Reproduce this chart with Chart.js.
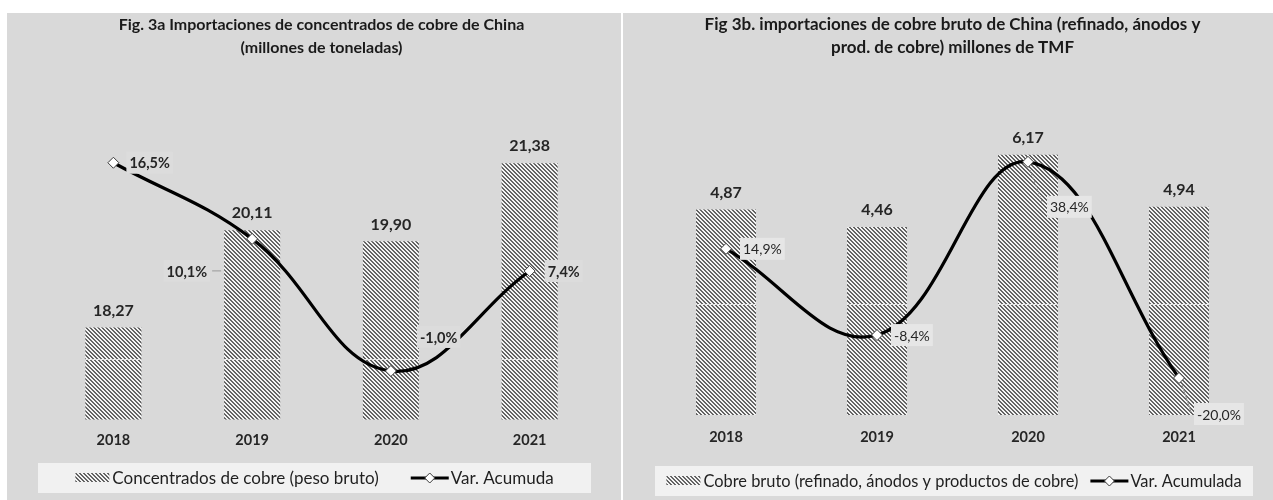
<!DOCTYPE html>
<html>
<head>
<meta charset="utf-8">
<script src="https://cdn.jsdelivr.net/npm/chart.js@4.4.1/dist/chart.umd.min.js"></script>
<style>
  html, body { margin: 0; padding: 0; background: #ffffff; }
  body { width: 1273px; height: 500px; position: relative; overflow: hidden; }
  .panel { position: absolute; top: 13px; height: 487px; background: #d9d9d9; }
  #p1 { left: 7px; width: 614px; }
  #p2 { left: 623px; width: 650px; }
  canvas { display: block; }
</style>
</head>
<body>
<div class="panel" id="p1"><canvas id="c1" width="614" height="487"></canvas></div>
<div class="panel" id="p2"><canvas id="c2" width="650" height="487"></canvas></div>
<script>
// Years on the category axis
const years = ['2018', '2019', '2020', '2021'];

// Fig. 3a: copper concentrate imports (million tonnes) and cumulative change (%)
const concentrados = [18.27, 20.11, 19.90, 21.38];
const varConcentrados = [16.5, 10.1, -1.0, 7.4];

// Fig. 3b: raw copper imports (million TMF) and cumulative change (%)
const cobreBruto = [4.87, 4.46, 6.17, 4.94];
const varCobreBruto = [14.9, -8.4, 38.4, -20.0];

const FONT = 'Lato, "Open Sans", sans-serif';
Chart.defaults.font.family = FONT;

const fmtValue = v => v.toFixed(2).replace('.', ',');
const fmtPct = v => v.toFixed(1).replace('.', ',') + '%';

// Diagonal hatch used for the bars and the legend swatch
function stripePattern(ctx) {
  const c = document.createElement('canvas');
  c.width = 4; c.height = 4;
  const g = c.getContext('2d');
  g.fillStyle = '#f4f4f4';
  g.fillRect(0, 0, 4, 4);
  g.fillStyle = '#646464';
  for (let y = 0; y < 4; y++) {
    for (let x = 0; x < 4; x++) {
      if ((((x - y) % 4) + 4) % 4 < 2) g.fillRect(x, y, 1, 1);
    }
  }
  return ctx.createPattern(c, 'repeat');
}

function drawDiamond(ctx, x, y, r) {
  ctx.save();
  ctx.beginPath();
  ctx.moveTo(x, y - r);
  ctx.lineTo(x + r, y);
  ctx.lineTo(x, y + r);
  ctx.lineTo(x - r, y);
  ctx.closePath();
  ctx.fillStyle = '#ffffff';
  ctx.fill();
  ctx.lineWidth = 1;
  ctx.strokeStyle = '#3a3a3a';
  ctx.stroke();
  ctx.restore();
}

function labelPlugin(cfg, pattern) {
  return {
    id: 'figureLabels',
    afterDatasetDraw(chart, args) {
      const ctx = chart.ctx;
      if (args.index === 0) {
        // zero line of the percentage axis, seen through the hatched bars
        const y0 = Math.round(chart.scales.y1.getPixelForValue(0)) + 0.5;
        ctx.save();
        ctx.strokeStyle = '#e6e6e6';
        ctx.lineWidth = 1;
        args.meta.data.forEach(b => {
          ctx.beginPath();
          ctx.moveTo(b.x - b.width / 2, y0);
          ctx.lineTo(b.x + b.width / 2, y0);
          ctx.stroke();
        });
        // bar values
        ctx.fillStyle = '#262626';
        ctx.font = 'bold 16px ' + FONT;
        ctx.textAlign = 'center';
        ctx.textBaseline = 'middle';
        args.meta.data.forEach((b, i) => {
          ctx.fillText(fmtValue(cfg.bars[i]), b.x, b.y - 17);
        });
        ctx.restore();
      }
      if (args.index === 1) {
        // percentage labels on boxes that sit over the curve
        const meta = chart.getDatasetMeta(2);
        ctx.save();
        ctx.font = cfg.pctFont;
        ctx.textBaseline = 'middle';
        meta.data.forEach((p, i) => {
          const pl = cfg.pctPlace[i];
          const txt = fmtPct(cfg.line[i]);
          const w = ctx.measureText(txt).width;
          const tx = p.x + pl.dx;
          const ty = p.y + pl.dy;
          const left = pl.align === 'right' ? tx - w : tx;
          if (pl.leader) {
            ctx.strokeStyle = '#9a9a9a';
            ctx.lineWidth = 1;
            ctx.setLineDash(pl.leader.dash || []);
            ctx.beginPath();
            ctx.moveTo(p.x + pl.leader.x1, p.y + pl.leader.y1);
            ctx.lineTo(p.x + pl.leader.x2, p.y + pl.leader.y2);
            ctx.stroke();
            ctx.setLineDash([]);
          }
          ctx.fillStyle = cfg.boxColor;
          ctx.fillRect(left - 3, ty - 11, w + 6, 22);
          ctx.fillStyle = '#262626';
          ctx.textAlign = 'left';
          ctx.fillText(txt, left, ty + 1);
        });
        ctx.restore();
      }
    },
    afterDraw(chart) {
      // legend box
      const ctx = chart.ctx;
      const L = cfg.legend;
      ctx.save();
      ctx.fillStyle = '#f1f1f1';
      ctx.fillRect(L.x, L.y, L.w, L.h);
      ctx.font = L.font;
      ctx.textBaseline = 'middle';
      ctx.textAlign = 'left';
      const w1 = ctx.measureText(cfg.barLabel).width;
      const w2 = ctx.measureText(cfg.lineLabel).width;
      const sw = 34, lineW = 38;
      const total = sw + 3 + w1 + L.gap + lineW + 2 + w2;
      let x = L.x + (L.w - total) / 2;
      const cy = L.y + L.h / 2;
      ctx.fillStyle = pattern;
      ctx.fillRect(x, cy - 5, sw, 9);
      x += sw + 3;
      ctx.fillStyle = '#1f1f1f';
      ctx.fillText(cfg.barLabel, x, cy + 1);
      x += w1 + L.gap;
      ctx.strokeStyle = '#000';
      ctx.lineWidth = 3;
      ctx.beginPath();
      ctx.moveTo(x, cy);
      ctx.lineTo(x + lineW, cy);
      ctx.stroke();
      drawDiamond(ctx, x + lineW / 2, cy, 5);
      x += lineW + 2;
      ctx.fillStyle = '#1f1f1f';
      ctx.fillText(cfg.lineLabel, x, cy + 1);
      ctx.restore();
    }
  };
}

function makeChart(id, cfg) {
  const canvas = document.getElementById(id);
  const ctx = canvas.getContext('2d');
  const pattern = stripePattern(ctx);
  return new Chart(ctx, {
    data: {
      labels: years,
      datasets: [
        {
          type: 'bar', label: cfg.barLabel, data: cfg.bars, yAxisID: 'y',
          backgroundColor: pattern, borderWidth: 0,
          barPercentage: cfg.barPct, categoryPercentage: 1, order: 3
        },
        {
          type: 'line', label: cfg.lineLabel, data: cfg.line, yAxisID: 'y1',
          borderColor: '#000000', borderWidth: 3.2, tension: 0.4,
          pointRadius: 0, fill: false, order: 2
        },
        {
          type: 'line', label: cfg.lineLabel, data: cfg.line, yAxisID: 'y1',
          showLine: false, pointStyle: 'rectRot', pointRadius: 5.5,
          pointBackgroundColor: '#ffffff', pointBorderColor: '#3a3a3a',
          pointBorderWidth: 1, order: 1
        }
      ]
    },
    options: {
      responsive: false,
      animation: false,
      devicePixelRatio: 1,
      layout: { padding: cfg.padding },
      plugins: {
        legend: { display: false },
        tooltip: { enabled: false },
        title: {
          display: true,
          text: cfg.title,
          color: '#1a1a1a',
          font: { size: cfg.titleSize, weight: 'bold', lineHeight: 23 / cfg.titleSize },
          padding: { top: 0, bottom: cfg.titleGap }
        }
      },
      scales: {
        x: {
          grid: { display: false, drawTicks: false },
          border: { display: false },
          ticks: { padding: cfg.tickPad, color: '#262626', font: { size: 14.5, weight: 'bold' } }
        },
        y: { display: false, min: cfg.yMin, max: cfg.yMax },
        y1: { display: false, min: cfg.y1Min, max: cfg.y1Max }
      }
    },
    plugins: [labelPlugin(cfg, pattern)]
  });
}

makeChart('c1', {
  title: ['Fig. 3a Importaciones de concentrados de cobre de China', '(millones de toneladas)'],
  titleSize: 16,
  barLabel: 'Concentrados de cobre (peso bruto)',
  lineLabel: 'Var. Acumuda',
  bars: concentrados,
  line: varConcentrados,
  padding: { left: 37, right: 22, top: 0, bottom: 38.6 },
  titleGap: 54,
  tickPad: 12.3,
  barPct: 0.404,
  yMin: 16.53, yMax: 22.33,
  y1Min: -5.07, y1Max: 20.68,
  pctFont: 'bold 14.5px ' + FONT,
  boxColor: '#dcdcdc',
  pctPlace: [
    { dx: 16, dy: 0, align: 'left' },
    { dx: -45, dy: 32, align: 'right', leader: { x1: -40, y1: 32, x2: -31, y2: 32 } },
    { dx: 29, dy: -34, align: 'left' },
    { dx: 18, dy: 0, align: 'left' }
  ],
  legend: { x: 31, y: 450, w: 553, h: 30, gap: 32, font: '17px ' + FONT }
});

makeChart('c2', {
  title: ['Fig 3b. importaciones de cobre bruto de China (refinado, ánodos y', 'prod. de cobre) millones de TMF'],
  titleSize: 17,
  barLabel: 'Cobre bruto (refinado, ánodos y productos de cobre)',
  lineLabel: 'Var. Acumulada',
  bars: cobreBruto,
  line: varCobreBruto,
  padding: { left: 27.5, right: 18.5, top: 0, bottom: 41 },
  titleGap: 54,
  tickPad: 13.3,
  barPct: 0.397,
  yMin: 0, yMax: 7.16,
  y1Min: -30.0, y1Max: 51.6,
  pctFont: '14px ' + FONT,
  boxColor: '#e6e6e6',
  pctPlace: [
    { dx: 17, dy: 0, align: 'left' },
    { dx: 17, dy: 0, align: 'left' },
    { dx: 22, dy: 45, align: 'left', leader: { x1: 2, y1: 8, x2: 14, y2: 40, dash: [2, 2] } },
    { dx: 18, dy: 36, align: 'left', leader: { x1: 3, y1: 7, x2: 12, y2: 34 } }
  ],
  legend: { x: 32, y: 453, w: 598, h: 30, gap: 12, font: '16.4px ' + FONT }
});
</script>
</body>
</html>
